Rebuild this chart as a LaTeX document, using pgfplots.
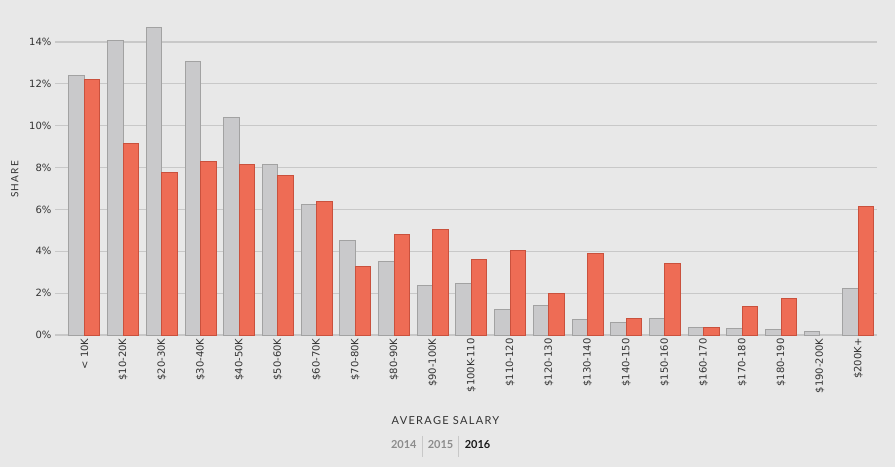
\documentclass[border=0pt]{standalone}
\usepackage{pgfplots}
\pgfplotsset{compat=1.18}
\usepackage{fontspec}
\setmainfont{DejaVu Sans}
\newfontfamily\spaced[LetterSpace=12]{Lato}
\newfontfamily\lato{Lato}
\definecolor{bgc}{HTML}{E8E8E8}
\definecolor{gridc}{HTML}{C8C8C8}
\definecolor{grayfill}{HTML}{C9C9CB}
\definecolor{graydraw}{HTML}{A2A2A2}
\definecolor{redfill}{HTML}{EE6C55}
\definecolor{reddraw}{HTML}{C9513D}
\definecolor{txt}{HTML}{333333}

\begin{document}
\begin{tikzpicture}[x=1pt,y=1pt]
\fill[bgc] (0,0) rectangle (895,467);
\begin{axis}[
    at={(55pt,132pt)}, anchor=south west,
    scale only axis,
    width=822pt, height=299.3pt,
    ybar=0pt, bar width=15.5pt,
    clip=false,
    xmin=-0.76, xmax=20.48,
    ymin=0, ymax=14.3,
    axis line style={draw=none},
    major tick length=0pt,
    ymajorgrids, grid style={gridc, line width=1.1pt},
    ytick={0,2,...,14},
    yticklabels={0\%,2\%,4\%,6\%,8\%,10\%,12\%,14\%},
    xtick={0,...,20},
    xticklabels={< 10K,\$10-20K,\$20-30K,\$30-40K,\$40-50K,\$50-60K,\$60-70K,\$70-80K,\$80-90K,\$90-100K,\$100K-110,\$110-120,\$120-130,\$130-140,\$140-150,\$150-160,\$160-170,\$170-180,\$180-190,\$190-200K,\$200K+},
    xticklabel style={rotate=90, anchor=east, font=\fontsize{10}{12}\selectfont, text=txt},
    yticklabel style={font=\fontsize{10}{12}\selectfont, text=txt},
    xlabel={\spaced AVERAGE SALARY},
    xlabel style={at={(axis description cs:0.475,-0.287)}, anchor=center, font=\fontsize{11}{13}\selectfont, text=txt},
    ylabel={\spaced SHARE},
    ylabel style={at={(axis description cs:-0.049,0.52)}, anchor=center, rotate=0, font=\fontsize{10}{12}\selectfont, text=txt},
]
% 2015 (grau)
\addplot[fill=grayfill, draw=graydraw, line width=0.9pt] coordinates {
    (0,12.42) (1,14.05) (2,14.70) (3,13.08) (4,10.41) (5,8.16) (6,6.23)
    (7,4.52) (8,3.52) (9,2.37) (10,2.47) (11,1.23) (12,1.42) (13,0.75)
    (14,0.61) (15,0.80) (16,0.37) (17,0.32) (18,0.27) (19,0.18) (20,2.23)
};
% 2016 (rot)
\addplot[fill=redfill, draw=reddraw, line width=0.9pt] coordinates {
    (0,12.23) (1,9.17) (2,7.78) (3,8.30) (4,8.16) (5,7.63) (6,6.39)
    (7,3.28) (8,4.81) (9,5.05) (10,3.62) (11,4.05) (12,1.99) (13,3.90)
    (14,0.80) (15,3.43) (16,0.37) (17,1.37) (18,1.75) (20,6.15)
};
% Jahresauswahl unten
\node[font=\lato\bfseries\fontsize{11}{13}\selectfont, text=black!45] at (axis description cs:0.4244,-0.367) {2014};
\node[font=\lato\bfseries\fontsize{11}{13}\selectfont, text=black!45] at (axis description cs:0.469,-0.367) {2015};
\node[font=\lato\bfseries\fontsize{11}{13}\selectfont, text=black!90] at (axis description cs:0.514,-0.367) {2016};
\draw[gridc, line width=1pt] (axis description cs:0.4473,-0.337) -- (axis description cs:0.4473,-0.408);
\draw[gridc, line width=1pt] (axis description cs:0.4906,-0.337) -- (axis description cs:0.4906,-0.408);
\end{axis}
\end{tikzpicture}
\end{document}
